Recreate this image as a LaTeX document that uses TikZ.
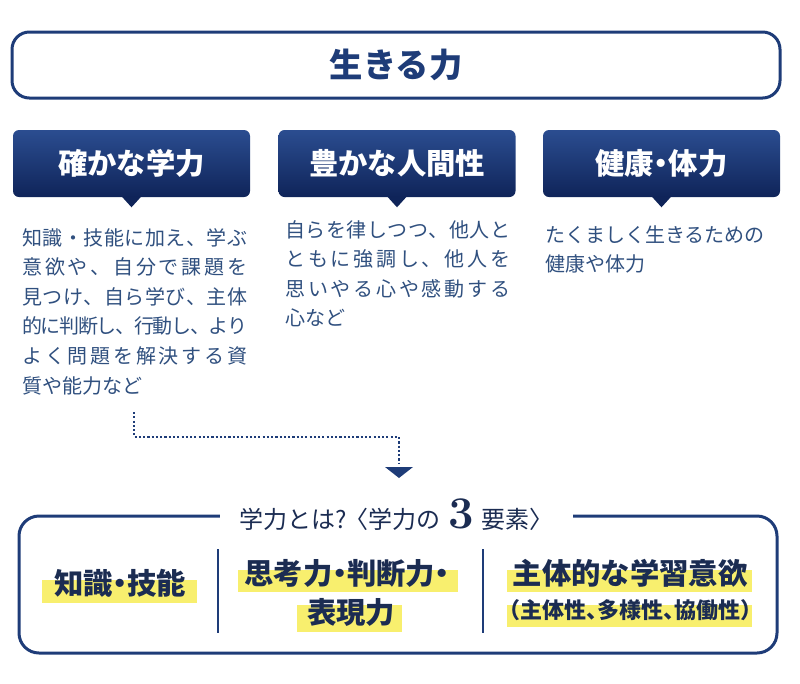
\documentclass[tikz,border=0pt]{standalone}
\usepackage{fontspec}
\newfontfamily\jp[RawFeature={+halt}]{Noto Sans CJK JP}
\newfontfamily\jpn{Noto Sans CJK JP}
\definecolor{navy}{HTML}{1E3C78}
\definecolor{hdtop}{HTML}{2B4D90}
\definecolor{hdbot}{HTML}{0F2459}
\definecolor{bodytxt}{HTML}{30507F}
\definecolor{darktxt}{HTML}{1B2C52}
\definecolor{hl}{HTML}{F8EF6E}
% justified line: glue between all characters
\newcommand\jline[2]{\hbox to #1{\jlfirst#2\relax}}
\def\jlfirst#1{#1\jlrest}
\def\jlrest#1{\ifx#1\relax\else\hskip 0pt plus 1fil minus 1.5pt #1\expandafter\jlrest\fi}
\tikzset{
  bigbox/.style={draw=navy, line width=2.25pt, rounded corners=13pt, inner sep=0pt},
  header/.style={rounded corners=4.5pt, top color=hdtop, bottom color=hdbot, text=white,
    minimum width=177.75pt, minimum height=50.25pt, inner sep=0pt,
    font=\jp\bfseries\fontsize{22}{24}\selectfont},
  pointer/.style={fill=hdbot},
  bodytext/.style={anchor=north west, inner sep=0pt, align=left, text=bodytxt,
    font=\jpn\fontsize{15}{22.2}\selectfont},
  keytext/.style={inner sep=0pt, text=darktxt, font=\jp\bfseries\fontsize{22}{24}\selectfont},
  hlbar/.style={fill=hl},
  dotline/.style={navy, line width=1.6pt, dash pattern=on 1.6pt off 1.6pt},
  divider/.style={navy, line width=1.1pt}
}
\begin{document}
\begin{tikzpicture}[x=0.75pt,y=-0.75pt]
\useasboundingbox (0,0) rectangle (800,683);
% top box
\node[bigbox, minimum width=576pt, minimum height=49.5pt, text=navy,
  font=\jp\bfseries\fontsize{25}{28}\selectfont] (top) at (396,65) {生きる力};
% headers
\node[header] (h1) at (131.5,163.5) {確かな学力};
\node[header] (h2) at (397,163.5) {豊かな人間性};
\node[header] (h3) at (661.5,163.5) {健康・体力};
\foreach \h in {h1,h2,h3}{
  \fill[pointer] (\h.south) ++(-10,-1) -- ++(20,0) -- ++(-10,11) -- cycle;
}
% body texts
\node[bodytext] (t1) at (22,228) {\jline{168.75pt}{知識・技能に加え、学ぶ}\\
  \jline{168.75pt}{意欲や、自分で課題を}\\
  \jline{168.75pt}{見つけ、自ら学び、主体}\\
  \jline{168.75pt}{的に判断し、行動し、より}\\
  \jline{168.75pt}{よく問題を解決する資}\\
  質や能力など};
\node[bodytext] (t2) at (285,220) {\jline{168.75pt}{自らを律しつつ、他人と}\\
  \jline{168.75pt}{ともに強調し、他人を}\\
  \jline{168.75pt}{思いやる心や感動する}\\
  心など};
\node[bodytext] (t3) at (545,225) {たくましく生きるための\\健康や体力};
% dotted connector
\coordinate (d0) at (134,412);
\coordinate (dk) at (134,437);
\coordinate (d1) at (399,463);
\draw[dotline] (d0) -- (dk) -| (d1);
\fill[navy] (d1) ++(-14,4) -- ++(28,0) -- ++(-14,11) -- cycle;
% bottom box
\draw[navy, line width=2.25pt, rounded corners=15pt] (19,516) rectangle (777,653);
\node[fill=white, inner ysep=2pt, inner xsep=0pt, minimum width=264.75pt, text=darktxt,
  font=\jpn\fontsize{18}{22}\selectfont] (ttl) at (396.5,515)
  {学力とは?\kern-2pt〈学力の{\normalfont\bfseries\fontsize{34}{30}\selectfont\,3\,}要素〉};
% dividers
\draw[divider] (218,549) -- (218,633);
\draw[divider] (483,549) -- (483,633);
% highlights
\fill[hlbar] (42,580) rectangle (197,603);
\fill[hlbar] (238,570) rectangle (458,592);
\fill[hlbar] (297,605) rectangle (402,632);
\fill[hlbar] (507,570) rectangle (752,592);
\fill[hlbar] (507,605) rectangle (752,627);
% key texts
\node[keytext] (k1) at (120,583) {知識・技能};
\node[keytext] (k2a) at (347,573) {思考力・判断力・};
\node[keytext] (k2b) at (351,612) {表現力};
\node[keytext] (k3a) at (630,573) {主体的な学習意欲};
\node[keytext, font=\jp\bfseries\fontsize{16.5}{18}\selectfont] (k3b) at (630,610) {（主体性、多様性、協働性）};
\end{tikzpicture}
\end{document}
